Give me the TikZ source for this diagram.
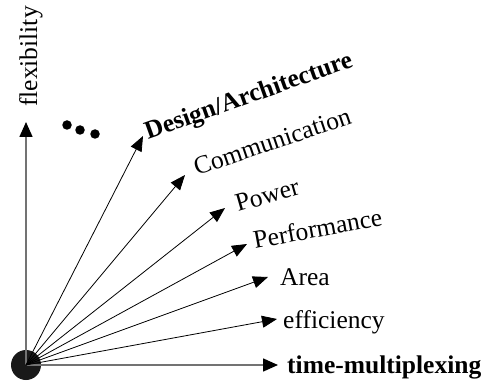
\documentclass[tikz,border=0pt]{standalone}
\usepackage{fontspec}
\setmainfont{Liberation Serif}
\usetikzlibrary{arrows.meta}
\begin{document}
\begin{tikzpicture}[x=1pt,y=-1pt,
  lbl/.style={anchor=base west,inner sep=0pt,font=\fontsize{25.5}{30}\selectfont},
  blbl/.style={lbl,font=\fontsize{25.5}{30}\selectfont\bfseries},
  ray/.style={line width=0.8pt,-{Triangle[length=15pt,width=12pt]}},
  axis/.style={line width=1.6pt,draw=black!55,-{Triangle[length=15pt,width=13pt,color=black]}},
  dot/.style={circle,fill=black,inner sep=0pt,minimum size=9.5pt}]
\useasboundingbox (0,0) rectangle (489,382);

% origin of all directions
\node[circle,fill=black!90,inner sep=0pt,minimum size=30pt] (o) at (26,365) {};

% arrow tips
\coordinate (tflex) at (26,122);
\coordinate (tdes) at (143,136);
\coordinate (tcom) at (185,175);
\coordinate (tpow) at (225,208);
\coordinate (tperf) at (247,244);
\coordinate (tarea) at (268,277);
\coordinate (teff) at (277,319);
\coordinate (ttime) at (278,365);

% axes
\draw[axis] (o.center) -- (tflex);
\draw[axis] (o.center) -- (ttime);

% rays
\foreach \t in {tdes,tcom,tpow,tperf,tarea,teff}
  \draw[ray] (o.center) -- (\t);

% labels
\node[lbl,rotate=90] (lflex) at (37,107) {flexibility};
\node[blbl,rotate=19.7] (ldes) at (148,140) {Design/Architecture};
\node[lbl,rotate=18.8] (lcom) at (197,176) {Communication};
\node[lbl,rotate=16] (lpow) at (238,212) {Power};
\node[lbl,rotate=10.5] (lperf) at (255,249) {Performance};
\node[lbl] (larea) at (280,285) {Area};
\node[lbl] (leff) at (283,328) {efficiency};
\node[blbl] (ltime) at (287,373) {time-multiplexing};

% ellipsis dots
\node[dot] (d1) at (67,125) {};
\node[dot] (d2) at (80,130) {};
\node[dot] (d3) at (95,134) {};
\end{tikzpicture}
\end{document}
